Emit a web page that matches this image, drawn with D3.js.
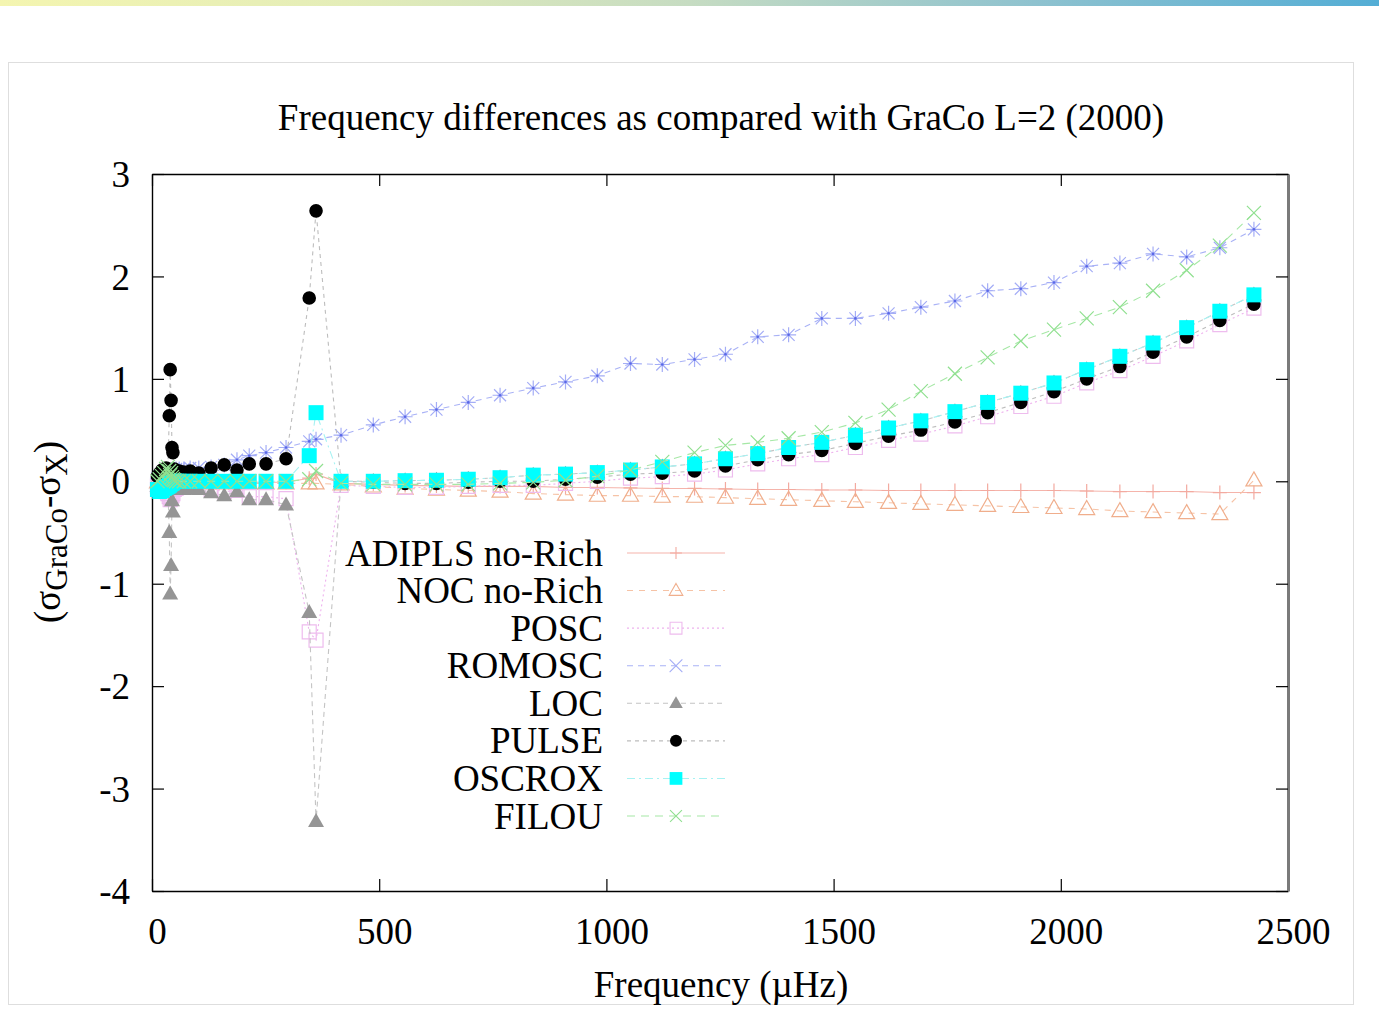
<!DOCTYPE html>
<html>
<head>
<meta charset="utf-8">
<script src="https://cdn.jsdelivr.net/npm/d3@7"></script>
<style>
  html, body { margin: 0; padding: 0; background: #ffffff; }
  svg { display: block; }
  text { font-family: "Liberation Serif", "Times New Roman", serif; fill: #000; }
</style>
</head>
<body>
<script>
// Mode frequencies (µHz): low-order g modes, the avoided crossing near 350 µHz, then the p-mode ladder
const frequencies = [12, 17, 22, 27, 31, 35, 38, 40, 42, 44, 46, 49, 53, 60, 70, 84, 103,
  130, 159, 187, 214, 251, 295,
  346, 361,
  416, 487, 557, 626, 696, 766, 839, 910, 980, 1053, 1123, 1194, 1262, 1333, 1401, 1474,
  1548, 1621, 1692, 1767, 1839, 1912, 1985, 2057, 2130, 2203, 2277, 2350, 2425];

// Differences sigma_GraCo - sigma_X for each code
const adiplsNoRich = [0.00, 0.00, 0.00, -0.01, -0.01, -0.01, -0.01, -0.01, -0.01, -0.01, -0.01, -0.01, -0.01, -0.01, -0.01, -0.01, -0.01,
  -0.01, -0.01, -0.01, -0.01, -0.01, -0.01,
  0.03, 0.07,
  -0.02, -0.03, -0.04, -0.045, -0.05, -0.05, -0.05, -0.06, -0.06, -0.065, -0.07, -0.07, -0.075, -0.08, -0.08, -0.085,
  -0.085, -0.09, -0.09, -0.09, -0.09, -0.09, -0.09, -0.095, -0.10, -0.10, -0.10, -0.11, -0.11];

const nocNoRich = [-0.01, -0.01, -0.02, -0.02, -0.02, -0.02, -0.02, -0.02, -0.02, -0.02, -0.02, -0.02, -0.02, -0.02, -0.02, -0.02, -0.02,
  -0.02, -0.02, -0.02, -0.02, -0.02, -0.02,
  -0.02, -0.02,
  -0.03, -0.05, -0.07, -0.08, -0.09, -0.10, -0.12, -0.13, -0.14, -0.14, -0.15, -0.15, -0.16, -0.17, -0.18, -0.19,
  -0.20, -0.21, -0.22, -0.23, -0.24, -0.25, -0.26, -0.27, -0.29, -0.30, -0.31, -0.32, 0.01];

const posc = [-0.05, -0.06, -0.07, -0.08, -0.10, -0.12, -0.15, -0.18, -0.16, -0.14, -0.12, -0.08, -0.07, -0.06, -0.06, -0.05, -0.05,
  -0.08, -0.10, -0.09, -0.15, -0.15, -0.17,
  -1.47, -1.55,
  -0.04, -0.05, -0.06, -0.06, -0.05, -0.04, -0.04, -0.02, 0.00, 0.03, 0.045, 0.07, 0.11, 0.17, 0.22, 0.26,
  0.33, 0.40, 0.46, 0.54, 0.63, 0.73, 0.83, 0.96, 1.08, 1.22, 1.37, 1.53, 1.69];

const romosc = [0.03, 0.05, 0.07, 0.08, 0.09, 0.10, 0.10, 0.10, 0.10, 0.11, 0.11, 0.11, 0.12, 0.12, 0.12, 0.13, 0.13,
  0.14, 0.16, 0.21, 0.25, 0.28, 0.33,
  0.39, 0.41,
  0.45, 0.55, 0.63, 0.70, 0.77, 0.84, 0.91, 0.97, 1.03, 1.15, 1.14, 1.19, 1.24, 1.41, 1.43, 1.59,
  1.59, 1.64, 1.70, 1.76, 1.86, 1.88, 1.94, 2.10, 2.13, 2.22, 2.19, 2.28, 2.46];

const loc = [-0.05, -0.06, -0.07, -0.08, -0.08, -0.08, -0.50, -1.10, -0.82, -0.19, -0.30, -0.08, -0.08, -0.08, -0.08, -0.07, -0.08,
  -0.11, -0.14, -0.10, -0.18, -0.18, -0.23,
  -1.28, -3.32,
  0.00, 0.00, 0.006, 0.01, 0.02, 0.035, 0.06, 0.07, 0.085, 0.11, 0.14, 0.17, 0.22, 0.27, 0.33, 0.38,
  0.45, 0.52, 0.59, 0.68, 0.77, 0.86, 0.96, 1.09, 1.22, 1.35, 1.50, 1.66, 1.82];

const pulse = [0.05, 0.08, 0.11, 0.12, 0.13, 0.12, 0.64, 1.09, 0.79, 0.33, 0.28, 0.12, 0.10, 0.10, 0.09, 0.10, 0.08,
  0.13, 0.16, 0.11, 0.17, 0.17, 0.22,
  1.79, 2.64,
  0.00, -0.01, -0.02, -0.02, -0.01, 0.00, 0.00, 0.02, 0.04, 0.07, 0.08, 0.10, 0.15, 0.21, 0.26, 0.30,
  0.37, 0.44, 0.50, 0.58, 0.67, 0.77, 0.875, 1.00, 1.12, 1.26, 1.41, 1.57, 1.73];

const oscrox = [-0.08, -0.10, -0.09, -0.07, -0.06, -0.05, -0.04, -0.03, -0.02, -0.02, -0.01, 0.00, 0.00, 0.00, 0.00, 0.00, 0.00,
  0.00, 0.00, 0.00, 0.00, 0.00, 0.00,
  0.25, 0.67,
  0.00, 0.00, 0.006, 0.01, 0.02, 0.035, 0.06, 0.07, 0.085, 0.11, 0.14, 0.17, 0.22, 0.27, 0.33, 0.38,
  0.45, 0.52, 0.59, 0.68, 0.77, 0.86, 0.96, 1.09, 1.22, 1.35, 1.50, 1.66, 1.82];

const filou = [0.00, 0.02, 0.05, 0.08, 0.12, 0.14, 0.10, 0.06, 0.08, 0.04, 0.02, 0.01, 0.00, 0.00, 0.00, 0.00, 0.00,
  0.00, 0.00, 0.00, 0.00, 0.00, 0.00,
  0.02, 0.10,
  -0.02, -0.03, -0.03, -0.03, -0.03, -0.02, -0.01, 0.01, 0.05, 0.11, 0.19, 0.28, 0.35, 0.38, 0.42, 0.48,
  0.57, 0.70, 0.88, 1.05, 1.21, 1.37, 1.48, 1.59, 1.70, 1.86, 2.06, 2.30, 2.62];

const seriesNames = ["ADIPLS no-Rich", "NOC no-Rich", "POSC", "ROMOSC", "LOC", "PULSE", "OSCROX", "FILOU"];
const seriesValues = [adiplsNoRich, nocNoRich, posc, romosc, loc, pulse, oscrox, filou];

const xTicks = [0, 500, 1000, 1500, 2000, 2500];
const yTicks = [-4, -3, -2, -1, 0, 1, 2, 3];

const titleText = "Frequency differences as compared with GraCo L=2 (2000)";
const xLabelText = "Frequency (\u00B5Hz)";

// Line and point style of each code
const styles = {
  "ADIPLS no-Rich": { stroke: "#f5b4ab", dash: null,        marker: "plus",     mStroke: "#f3aaa0", mFill: "none",    size: 7 },
  "NOC no-Rich":    { stroke: "#f6c3a6", dash: "6,6",       marker: "triangle", mStroke: "#f0ae8c", mFill: "none",    size: 8 },
  "POSC":           { stroke: "#eeb2ee", dash: "2,3",       marker: "square",   mStroke: "#eebcee", mFill: "none",    size: 7 },
  "ROMOSC":         { stroke: "#a9b2f6", dash: "6,5",       marker: "star",     mStroke: "#a4adf6", mFill: "none",    size: 7.5 },
  "LOC":            { stroke: "#c4c4c4", dash: "5,4",       marker: "triangleFilled", mStroke: "none", mFill: "#959595", size: 8 },
  "PULSE":          { stroke: "#bdbdbd", dash: "4,4",       marker: "circle",   mStroke: "none",    mFill: "#000000", size: 6.8 },
  "OSCROX":         { stroke: "#a6f2f2", dash: "8,4,2,4",   marker: "squareFilled", mStroke: "none", mFill: "#00ffff", size: 7.5 },
  "FILOU":          { stroke: "#a6e8a6", dash: "8,6",       marker: "cross",    mStroke: "#90e090", mFill: "none",    size: 7 }
};

function markerPath(type, s) {
  switch (type) {
    case "plus": return `M${-s},0H${s}M0,${-s}V${s}`;
    case "cross": return `M${-s},${-s}L${s},${s}M${-s},${s}L${s},${-s}`;
    case "star": {
      const c = s * 0.8;
      return `M${-s},0H${s}M0,${-s}V${s}M${-c},${-c}L${c},${c}M${-c},${c}L${c},${-c}`;
    }
    case "triangle":
    case "triangleFilled": return `M0,${-s * 1.05}L${s},${s * 0.7}L${-s},${s * 0.7}Z`;
    case "square":
    case "squareFilled": return `M${-s},${-s}H${s}V${s}H${-s}Z`;
    case "circle": return `M${s},0A${s},${s} 0 1,1 ${-s},0A${s},${s} 0 1,1 ${s},0Z`;
  }
  return "";
}

const W = 1379, H = 1032;
const svg = d3.select("body").append("svg").attr("width", W).attr("height", H);

// Top banner gradient
const defs = svg.append("defs");
const grad = defs.append("linearGradient").attr("id", "banner").attr("x1", "0%").attr("x2", "100%");
[["0%", "#f4f5b0"], ["25%", "#e4edb8"], ["50%", "#c6dcc2"], ["75%", "#8ec2cf"], ["100%", "#53add5"]]
  .forEach(([o, c]) => grad.append("stop").attr("offset", o).attr("stop-color", c));
svg.append("rect").attr("x", 0).attr("y", 0).attr("width", W).attr("height", 6).attr("fill", "url(#banner)");

// Panel outline
svg.append("rect").attr("x", 8.5).attr("y", 62.5).attr("width", 1345).attr("height", 942)
  .attr("fill", "none").attr("stroke", "#dedede").attr("stroke-width", 1);

const x = d3.scaleLinear().domain([0, 2500]).range([152, 1288]);
const y = d3.scaleLinear().domain([-4, 3]).range([891, 174]);

const FS = 37;
const plainNumber = d => String(d);

// Axes with inward ticks on all four sides
const gAxes = svg.append("g");
const styleAxis = g => {
  g.selectAll("text").style("font-size", FS + "px").style("font-family", '"Liberation Serif", serif').attr("fill", "#000");
  g.selectAll("line").attr("stroke", "#000").attr("stroke-width", 1.2);
  g.select(".domain").attr("stroke", "#000").attr("stroke-width", 1.4);
};
gAxes.append("g").attr("transform", "translate(152,0)")
  .call(d3.axisLeft(y).tickValues(yTicks).tickFormat(plainNumber).tickSize(-12).tickSizeOuter(0).tickPadding(22))
  .call(styleAxis)
  .call(g => g.selectAll("text").attr("dy", "0.34em"));
gAxes.append("g").attr("transform", "translate(0,891)")
  .call(d3.axisBottom(x).tickValues(xTicks).tickFormat(plainNumber).tickSize(-12).tickSizeOuter(0).tickPadding(27))
  .call(styleAxis)
  .call(g => g.selectAll("text").attr("x", 5));
gAxes.append("g").attr("transform", "translate(0,174)")
  .call(d3.axisTop(x).tickValues(xTicks).tickFormat("").tickSize(-12).tickSizeOuter(0))
  .call(styleAxis);
gAxes.append("g").attr("transform", "translate(1288,0)")
  .call(d3.axisRight(y).tickValues(yTicks).tickFormat("").tickSize(-12).tickSizeOuter(0))
  .call(styleAxis)
  .call(g => g.select(".domain").attr("stroke", "#7a7a7a").attr("stroke-width", 3));

// Title and axis labels
svg.append("text").attr("x", 721).attr("y", 130).attr("text-anchor", "middle")
  .style("font-size", FS + "px").text(titleText);
svg.append("text").attr("x", 721).attr("y", 997).attr("text-anchor", "middle")
  .style("font-size", FS + "px").text(xLabelText);

const yl = svg.append("text").attr("transform", "translate(60,532) rotate(-90)")
  .attr("text-anchor", "middle").style("font-size", FS + "px");
yl.append("tspan").text("(\u03C3");
yl.append("tspan").attr("dy", 7).style("font-size", "31px").text("GraCo");
yl.append("tspan").attr("dy", -7).text("-\u03C3");
yl.append("tspan").attr("dy", 7).style("font-size", "31px").text("X");
yl.append("tspan").attr("dy", -7).text(")");

// Series: connecting line then point markers, in plotting order
const line = d3.line().x(d => x(d.f)).y(d => y(d.v));
const gPlot = svg.append("g");
seriesNames.forEach((name, i) => {
  const st = styles[name];
  const pts = frequencies.map((f, k) => ({ f, v: seriesValues[i][k] }));
  const g = gPlot.append("g");
  g.append("path").datum(pts).attr("d", line)
    .attr("fill", "none").attr("stroke", st.stroke).attr("stroke-width", 1.1)
    .attr("stroke-dasharray", st.dash);
  g.selectAll("path.pt").data(pts).enter().append("path").attr("class", "pt")
    .attr("transform", d => `translate(${x(d.f)},${y(d.v)})`)
    .attr("d", markerPath(st.marker, st.size))
    .attr("fill", st.mFill).attr("stroke", st.mStroke).attr("stroke-width", 1.2);
  if (st.marker === "star") {
    g.selectAll("circle.ctr").data(pts).enter().append("circle").attr("class", "ctr")
      .attr("cx", d => x(d.f)).attr("cy", d => y(d.v)).attr("r", 1.3).attr("fill", "#5a68e8");
  }
});

// Key
const legendY = d3.scalePoint().domain(seriesNames).range([553, 816]);
const gLeg = svg.append("g");
seriesNames.forEach(name => {
  const st = styles[name];
  const yy = legendY(name);
  gLeg.append("text").attr("x", 603).attr("y", yy).attr("dy", "0.34em").attr("text-anchor", "end")
    .style("font-size", FS + "px").text(name);
  gLeg.append("line").attr("x1", 627).attr("x2", 725).attr("y1", yy).attr("y2", yy)
    .attr("stroke", st.stroke).attr("stroke-width", 1.1).attr("stroke-dasharray", st.dash);
  gLeg.append("path").attr("transform", `translate(676,${yy})`)
    .attr("d", markerPath(st.marker === "star" ? "cross" : st.marker, st.marker === "circle" ? 6 : st.size * 0.85))
    .attr("fill", st.mFill).attr("stroke", st.mStroke).attr("stroke-width", 1.1);
});
</script>
</body>
</html>
